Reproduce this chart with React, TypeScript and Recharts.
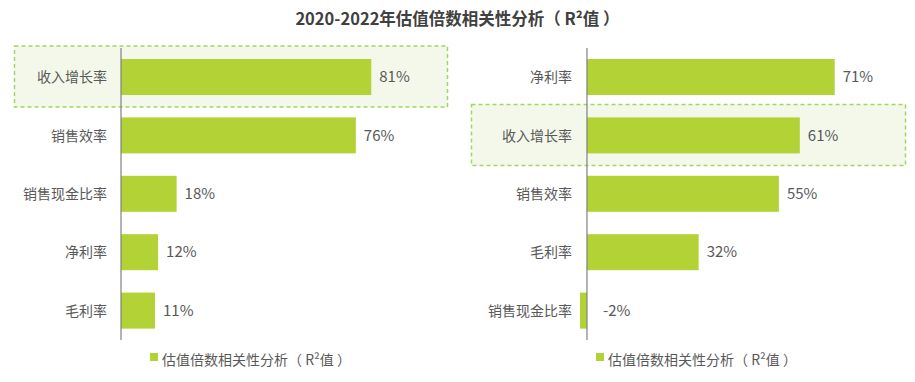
import * as React from "react";
import { Bar, BarChart, LabelList, ReferenceLine, XAxis, YAxis } from "recharts";

const title = "2020-2022年估值倍数相关性分析（ R²值 ）";
const legendLabel = "估值倍数相关性分析（ R²值 ）";
const highlighted = "收入增长率";

const leftCategories = ["收入增长率", "销售效率", "销售现金比率", "净利率", "毛利率"];
const leftValues = [81, 76, 18, 12, 11];

const rightCategories = ["净利率", "收入增长率", "销售效率", "毛利率", "销售现金比率"];
const rightValues = [71, 61, 55, 32, -2];

const GREEN = "#b2d235";
const TEXT = "#595959";
const FONT = "'Noto Sans CJK SC', 'Noto Sans', sans-serif";

function makeRows(cats: string[], vals: number[]) {
  return cats.map((name, i) => ({ name, value: vals[i] }));
}

function HighlightBar(boxX: number, boxW: number) {
  return (props: any) => {
    const { x, y, width, height, payload } = props;
    const left = Math.min(x, x + width);
    const w = Math.abs(width);
    return (
      <g>
        {payload && payload.name === highlighted && (
          <rect
            x={boxX}
            y={y - 13}
            width={boxW}
            height={height + 25}
            fill="rgb(140,190,60)"
            fillOpacity={0.1}
            stroke="#a4d65e"
            strokeWidth={1.5}
            strokeDasharray="4 3"
          />
        )}
        <rect x={left} y={y} width={w} height={height} fill={GREEN} />
      </g>
    );
  };
}

function ValueLabel(props: any) {
  const { x, y, width, height, value } = props;
  const tx = Math.max(x, x + width) + (value < 0 ? 16 : 8);
  return (
    <text x={tx} y={y + height / 2} dy="0.35em" fill={TEXT} fontSize={15} textAnchor="start">
      {`${value}%`}
    </text>
  );
}

function Panel(props: {
  rows: { name: string; value: number }[];
  domain: [number, number];
  axisWidth: number;
  right: number;
  width: number;
  boxX: number;
  boxW: number;
  tickMargin: number;
}) {
  const { rows, domain, axisWidth, right, width, boxX, boxW, tickMargin } = props;
  return (
    <BarChart
      width={width}
      height={382}
      layout="vertical"
      data={rows}
      margin={{ top: 48, right, bottom: 42, left: 0 }}
    >
      <XAxis type="number" hide domain={domain} />
      <YAxis
        type="category"
        dataKey="name"
        width={axisWidth}
        axisLine={false}
        tickLine={false}
        tickSize={0}
        tickMargin={tickMargin}
        tick={{ fill: TEXT, fontSize: 14 }}
        interval={0}
      />
      <Bar
        dataKey="value"
        barSize={36}
        isAnimationActive={false}
        shape={HighlightBar(boxX, boxW)}
      >
        <LabelList dataKey="value" content={ValueLabel} />
      </Bar>
      <ReferenceLine x={0} stroke="#808080" strokeWidth={1.2} />
    </BarChart>
  );
}

function LegendItem(props: { left: number }) {
  return (
    <div
      style={{
        position: "absolute",
        left: props.left,
        top: 349,
        display: "flex",
        alignItems: "center",
        fontSize: 14,
        color: TEXT,
        whiteSpace: "nowrap",
      }}
    >
      <span style={{ width: 8, height: 8, background: GREEN, marginRight: 4, marginTop: -4 }} />
      <span>{legendLabel}</span>
    </div>
  );
}

export default function App() {
  return (
    <div
      style={{
        position: "absolute",
        left: 0,
        top: 0,
        width: 915,
        height: 382,
        background: "#fff",
        fontFamily: FONT,
        overflow: "hidden",
      }}
    >
      <div
        style={{
          position: "absolute",
          top: 7,
          left: 0,
          width: 915,
          textAlign: "center",
          fontSize: 16.5,
          fontWeight: 700,
          color: "#404040",
          lineHeight: "22px",
        }}
      >
        {title}
      </div>
      <div style={{ position: "absolute", left: 0, top: 0 }}>
        <Panel
          rows={makeRows(leftCategories, leftValues)}
          domain={[0, 100]}
          axisWidth={121}
          right={30}
          width={460}
          boxX={14.5}
          boxW={433}
          tickMargin={14}
        />
      </div>
      <div style={{ position: "absolute", left: 460, top: 0 }}>
        <Panel
          rows={makeRows(rightCategories, rightValues)}
          domain={[-2, 90]}
          axisWidth={120}
          right={14}
          width={455}
          boxX={11.5}
          boxW={434}
          tickMargin={8}
        />
      </div>
      <LegendItem left={150} />
      <LegendItem left={596} />
    </div>
  );
}
